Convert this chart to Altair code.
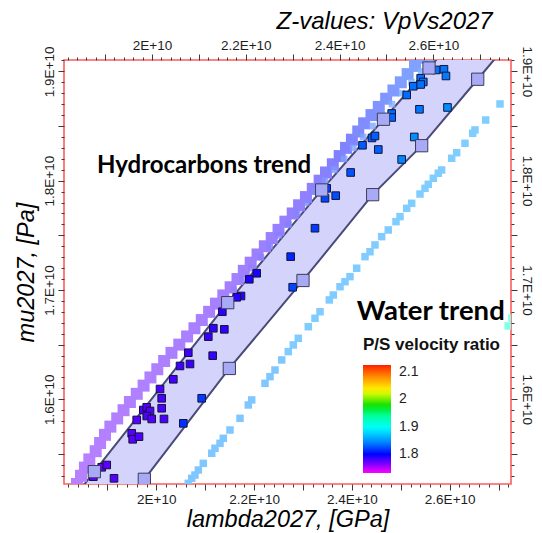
import altair as alt
import pandas as pd

E9 = 1e9

# ---------------------------------------------------------------------------
# Values (lambda on x, mu on y, both in units of 1e9 Pa)
# ---------------------------------------------------------------------------

# Well samples, coloured by P/S velocity ratio
sample_lambda = [18.712, 18.883, 18.986, 19.135, 19.497, 19.517, 19.646, 19.599, 19.734, 19.804,
                 19.871, 19.804, 19.906, 20.157, 20.110, 20.110, 20.076, 20.348, 20.485, 20.689,
                 20.654, 20.928, 20.552, 21.153, 21.391, 21.063, 21.166, 21.350, 21.732, 21.644,
                 21.902, 22.053, 22.748, 22.789, 23.245, 23.450, 23.485, 23.669, 23.975, 24.217,
                 24.411, 24.472, 24.540, 25.018, 25.276, 24.814, 24.814, 25.382, 25.955, 25.121,
                 25.256, 25.407, 25.460, 25.407, 25.611, 25.720, 25.883, 25.924]
sample_mu = [15.292, 15.378, 15.399, 15.277, 15.689, 15.634, 15.658, 15.811, 15.902, 15.927,
             15.893, 15.847, 15.820, 15.820, 15.918, 16.009, 16.094, 16.183, 16.305, 16.323,
             16.426, 16.009, 15.780, 16.399, 16.640, 16.573, 16.650, 16.801, 16.945, 16.933,
             17.098, 17.153, 17.305, 17.025, 17.565, 17.839, 17.930, 17.863, 18.075, 18.324,
             18.391, 18.409, 18.285, 18.194, 18.400, 18.615, 18.578, 18.653, 18.670, 18.784,
             18.864, 18.937, 18.903, 18.880, 19.028, 19.013, 19.019, 18.958]
sample_vpvs = [1.772, 1.773, 1.774, 1.776, 1.776, 1.775, 1.777, 1.776, 1.778, 1.777,
               1.776, 1.778, 1.777, 1.779, 1.779, 1.780, 1.779, 1.781, 1.782, 1.784,
               1.783, 1.818, 1.815, 1.785, 1.786, 1.784, 1.785, 1.788, 1.790, 1.789,
               1.792, 1.793, 1.812, 1.822, 1.818, 1.822, 1.820, 1.824, 1.826, 1.828,
               1.829, 1.830, 1.830, 1.845, 1.848, 1.833, 1.832, 1.838, 1.848, 1.834,
               1.835, 1.836, 1.836, 1.835, 1.837, 1.837, 1.838, 1.840]

# Hydrocarbon zone polygon, upper and lower boundaries from bottom to top
# (first and last entries lie just outside the plotted range)
hc_upper_lambda = [18.276, 18.732, 21.460, 23.382, 24.646, 25.577, 25.994]
hc_upper_mu = [15.079, 15.338, 16.884, 17.915, 18.562, 19.031, 19.242]
hc_lower_lambda = [19.429, 19.755, 21.493, 23.000, 24.425, 25.427, 26.573, 27.164]
hc_lower_mu = [15.079, 15.268, 16.282, 17.087, 17.872, 18.320, 18.928, 19.242]

# Hydrocarbons trend model points: main strand
hc_trend_mu = [15.15, 15.225, 15.30, 15.375, 15.45, 15.525, 15.60, 15.675, 15.75, 15.825,
               15.90, 15.975, 16.05, 16.125, 16.20, 16.275, 16.35, 16.425, 16.50, 16.575,
               16.65, 16.725, 16.80, 16.875, 16.95, 17.025, 17.10, 17.175, 17.25, 17.325,
               17.40, 17.475, 17.55, 17.625, 17.70, 17.775, 17.85, 17.925, 18.00, 18.075,
               18.15, 18.225, 18.30, 18.375, 18.45, 18.525, 18.60, 18.675, 18.75, 18.825,
               18.90, 18.975, 19.05, 19.125]
hc_trend_lambda = [18.30, 18.378, 18.46, 18.54, 18.63, 18.76, 18.85, 18.95, 19.06, 19.20,
                   19.33, 19.46, 19.60, 19.74, 19.88, 20.02, 20.16, 20.31, 20.47, 20.63,
                   20.78, 20.93, 21.08, 21.22, 21.37, 21.52, 21.66, 21.79, 21.93, 22.07,
                   22.22, 22.36, 22.50, 22.64, 22.79, 22.92, 23.06, 23.20, 23.34, 23.47,
                   23.61, 23.75, 23.88, 24.00, 24.13, 24.25, 24.40, 24.55, 24.70, 24.85,
                   25.00, 25.14, 25.29, 25.44]
hc_trend_vpvs = [1.769, 1.769, 1.770, 1.770, 1.770, 1.771, 1.771, 1.771, 1.772, 1.772,
                 1.772, 1.773, 1.773, 1.774, 1.774, 1.775, 1.775, 1.776, 1.776, 1.777,
                 1.777, 1.778, 1.778, 1.779, 1.779, 1.780, 1.781, 1.782, 1.783, 1.784,
                 1.785, 1.786, 1.787, 1.788, 1.789, 1.790, 1.791, 1.792, 1.794, 1.796,
                 1.798, 1.800, 1.802, 1.804, 1.806, 1.808, 1.810, 1.812, 1.814, 1.816,
                 1.818, 1.820, 1.821, 1.822]

# Hydrocarbons trend model points: secondary strand along the zone boundary
hc_inner_mu = [17.0, 17.1, 17.2, 17.3, 17.4, 17.5, 17.6, 17.7, 17.8, 17.9, 18.0,
               18.1, 18.2, 18.3, 18.4, 18.5, 18.6, 18.7, 18.8, 18.9, 19.0, 19.1]
hc_inner_lambda = [21.58, 21.76, 21.95, 22.14, 22.32, 22.51, 22.70, 22.88, 23.07, 23.25, 23.45,
                   23.64, 23.84, 24.03, 24.23, 24.42, 24.62, 24.82, 25.02, 25.22, 25.42, 25.61]
hc_inner_vpvs = [1.788, 1.790, 1.792, 1.794, 1.796, 1.798, 1.800, 1.803, 1.806, 1.809, 1.812,
                 1.815, 1.818, 1.820, 1.822, 1.824, 1.826, 1.828, 1.830, 1.831, 1.832, 1.833]

# Water trend model points
water_lambda = [20.654, 20.724, 20.791, 20.859, 20.961, 21.133, 21.200, 21.303, 21.370, 21.507,
                21.712, 21.881, 21.951, 22.223, 22.325, 22.427, 22.564, 22.699, 22.802, 22.904,
                23.108, 23.245, 23.348, 23.538, 23.620, 23.757, 23.859, 23.961, 24.098, 24.268,
                24.370, 24.472, 24.609, 24.744, 24.902, 24.984, 25.121, 25.223, 25.393, 25.495,
                25.562, 25.665, 25.767, 25.836, 26.041, 26.143, 26.313, 26.470, 26.517, 26.736,
                27.029, 27.274, 27.196]
water_mu = [15.231, 15.277, 15.307, 15.353, 15.414, 15.506, 15.552, 15.597, 15.643, 15.719,
            15.826, 15.948, 15.994, 16.146, 16.207, 16.268, 16.360, 16.436, 16.497, 16.558,
            16.664, 16.741, 16.801, 16.909, 16.954, 17.030, 17.076, 17.122, 17.199, 17.305,
            17.350, 17.412, 17.488, 17.549, 17.625, 17.671, 17.747, 17.793, 17.878, 17.930,
            17.967, 18.022, 18.068, 18.098, 18.205, 18.256, 18.342, 18.434, 18.464, 18.555,
            18.702, 16.744, 16.671]
water_vpvs = [1.848] * 17 + [1.851] * 17 + [1.854] * 17 + [1.915, 1.915]

# Colour map for the P/S velocity ratio, and the same map washed out for model trends
vpvs_stops = [1.7318, 1.76, 1.80, 1.835, 1.895, 1.945, 1.975, 2.03, 2.08, 2.1245]
vpvs_colors = ["#ff00ff", "#9000ff", "#0000ff", "#0070ff", "#00ffff",
               "#00ff90", "#00e000", "#ffff00", "#ff9000", "#ff2000"]
vpvs_colors_pale = ["#ff80ff", "#c880ff", "#8080ff", "#80b8ff", "#80ffff",
                    "#80ffc8", "#80f080", "#ffff80", "#ffc880", "#ff9080"]

LAM_DOMAIN = [18.112e9, 27.254e9]
LAM_TOP_DOMAIN = [18.124e9, 27.655e9]
MU_DOMAIN = [15.225e9, 19.104e9]

FONT = "Liberation Sans"


def frame(lam, mu, **extra):
    data = {"lambda": [v * E9 for v in lam], "mu": [v * E9 for v in mu]}
    data.update(extra)
    return pd.DataFrame(data)


samples = frame(sample_lambda, sample_mu, vpvs=sample_vpvs)
trend = frame(hc_trend_lambda, hc_trend_mu, vpvs=hc_trend_vpvs)
trend_inner = frame(hc_inner_lambda, hc_inner_mu, vpvs=hc_inner_vpvs)
water = frame(water_lambda, water_mu, vpvs=water_vpvs)

# polygon path: up the upper boundary, back down the lower one
poly_lam = hc_upper_lambda + hc_lower_lambda[::-1]
poly_mu = hc_upper_mu + hc_lower_mu[::-1]
polygon = frame(poly_lam, poly_mu, ord=list(range(len(poly_lam))))
vertices = frame(hc_upper_lambda[1:-1] + hc_lower_lambda[1:-1],
                 hc_upper_mu[1:-1] + hc_lower_mu[1:-1])

# ---------------------------------------------------------------------------
# Scales and axes
# ---------------------------------------------------------------------------
x_scale = alt.Scale(domain=LAM_DOMAIN, nice=False, zero=False)
x_top_scale = alt.Scale(domain=LAM_TOP_DOMAIN, nice=False, zero=False)
y_scale = alt.Scale(domain=MU_DOMAIN, nice=False, zero=False)
vpvs_scale = alt.Scale(domain=vpvs_stops, range=vpvs_colors, interpolate="rgb")
vpvs_pale_scale = alt.Scale(domain=vpvs_stops, range=vpvs_colors_pale, interpolate="rgb")

x_ticks = [k * 100_000_000 for k in range(182, 273, 2)]
x_top_ticks = [k * 100_000_000 for k in range(182, 277, 2)]
y_ticks = [k * 100_000_000 for k in range(153, 192)]

label_x = "datum.value % 2000000000 === 0 ? format(datum.value / 1e10, '.1~f') + 'E+10' : ''"
label_y = "datum.value % 1000000000 === 0 ? format(datum.value / 1e10, '.1~f') + 'E+10' : ''"
tick_x = {"condition": {"test": "datum.value % 1000000000 === 0", "value": 6}, "value": 3}
tick_y = {"condition": {"test": "datum.value % 500000000 === 0", "value": 6}, "value": 3}

axis_common = dict(grid=False, domain=False, labelFont=FONT, labelFontSize=13.5,
                   labelColor="#1e1e1e", tickColor="#3a3a3a", tickWidth=1,
                   labelOverlap=False, labelFlush=False, labelPadding=2,
                   titleFont=FONT, titleFontSize=23.5, titleFontStyle="italic",
                   titleFontWeight="normal", titleColor="#000000")

axis_bottom = alt.Axis(orient="bottom", values=x_ticks, labelExpr=label_x, tickSize=tick_x,
                       title="lambda2027, [GPa]", titlePadding=2, **axis_common)
axis_top = alt.Axis(orient="top", values=x_top_ticks, labelExpr=label_x, tickSize=tick_x,
                    title=None, **axis_common)
axis_left = alt.Axis(orient="left", values=y_ticks, labelExpr=label_y, tickSize=tick_y,
                     labelAngle=-90, title="mu2027, [Pa]", titlePadding=4, **axis_common)
axis_right = alt.Axis(orient="right", values=y_ticks, labelExpr=label_y, tickSize=tick_y,
                      labelAngle=90, title=None, **axis_common)


def xy(x_axis=None, y_axis=None):
    return dict(
        x=alt.X("lambda:Q", scale=x_scale, axis=x_axis),
        y=alt.Y("mu:Q", scale=y_scale, axis=y_axis),
    )


# ---------------------------------------------------------------------------
# Layers
# ---------------------------------------------------------------------------
zone = alt.Chart(polygon).mark_line(
    fill="#d3d3fb", stroke="#4a4a78", strokeWidth=2, clip=True
).encode(order="ord:Q", **xy(axis_bottom, axis_left))

trend_layer = alt.Chart(trend).mark_square(size=144, opacity=1, clip=True).encode(
    color=alt.Color("vpvs:Q", scale=vpvs_pale_scale, legend=None), **xy()
)

trend_inner_layer = alt.Chart(trend_inner).mark_square(size=45, opacity=0.8, clip=True).encode(
    color=alt.Color("vpvs:Q", scale=vpvs_pale_scale, legend=None), **xy()
)

water_layer = alt.Chart(water).mark_square(size=56, opacity=1, clip=True).encode(
    color=alt.Color("vpvs:Q", scale=vpvs_pale_scale, legend=None), **xy(None, axis_right)
)

sample_layer = alt.Chart(samples).mark_square(
    size=58, opacity=1, stroke="#14143a", strokeWidth=1, clip=True
).encode(
    color=alt.Color(
        "vpvs:Q", scale=vpvs_scale,
        legend=alt.Legend(
            title="P/S velocity ratio", orient="none", legendX=299, legendY=277,
            direction="vertical", gradientLength=108, gradientThickness=28,
            gradientStrokeWidth=0, values=[1.8, 1.9, 2.0, 2.1], format="~g",
            labelFont=FONT, labelFontSize=14, labelColor="#1e1e1e", labelOffset=8,
            titleFont=FONT, titleFontSize=17, titleFontWeight="bold", titleColor="#111111",
            titlePadding=11, titleLimit=300, padding=0,
        ),
    ),
    **xy(),
)

vertex_layer = alt.Chart(vertices).mark_square(
    size=150, opacity=1, color="#a9aaf6", stroke="#3c3c5c", strokeWidth=1, clip=True
).encode(**xy())

top_axis_layer = alt.Chart(pd.DataFrame({"lambda": LAM_TOP_DOMAIN})).mark_point(opacity=0).encode(
    x=alt.X("lambda:Q", scale=x_top_scale, axis=axis_top),
)


def label(text, x, y, **style):
    return alt.Chart(pd.DataFrame({"t": [text]})).mark_text(
        align=style.pop("align", "left"), baseline="alphabetic", color="#000000", **style
    ).encode(x=alt.value(x), y=alt.value(y), text="t:N")


hc_label = label("Hydrocarbons trend", 33, 112.5, font="Lato", fontSize=24, fontWeight="bold")
water_label = label("Water trend", 292.7, 260, font="Lato", fontSize=27.5, fontWeight="bold")
z_title = label("Z-values: VpVs2027", 428.7, -31.5, align="right", font=FONT,
                fontSize=24, fontStyle="italic")

chart = alt.layer(
    zone, trend_layer, trend_inner_layer, water_layer, sample_layer, vertex_layer,
    top_axis_layer, hc_label, water_label, z_title,
).resolve_scale(
    x="independent", color="independent"
).resolve_axis(
    x="independent", y="independent"
).properties(
    width=447,
    height=424,
    padding={"left": 64, "top": 60, "right": 31, "bottom": 49},
    autosize=alt.AutoSizeParams(type="none"),
    background="white",
).configure_view(stroke="#ff5c5c", strokeWidth=1.6)

chart.save("out.html", embed_options={"renderer": "svg", "actions": False})
